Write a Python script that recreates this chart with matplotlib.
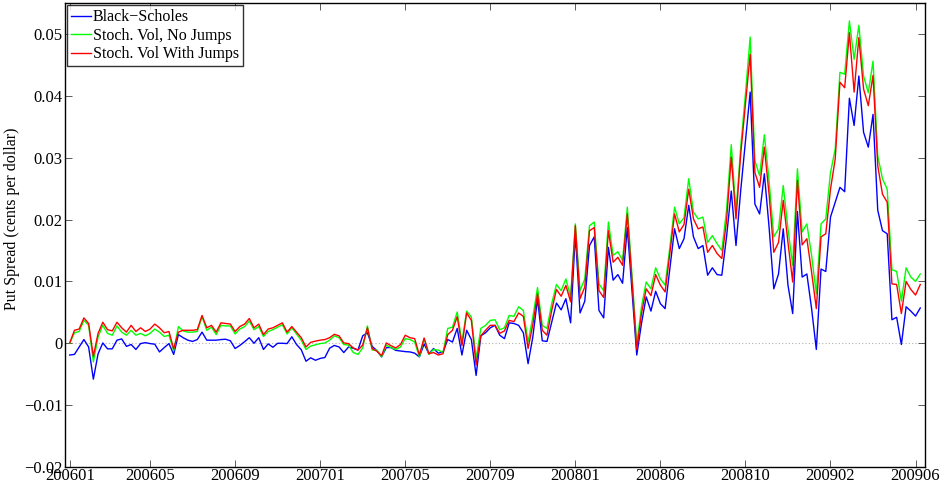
import matplotlib
matplotlib.use("Agg")
import matplotlib.pyplot as plt
import numpy as np

plt.rcParams['font.family'] = 'serif'
plt.rcParams['font.serif'] = ['Liberation Serif', 'DejaVu Serif']
plt.rcParams['mathtext.fontset'] = 'stix'

series_names = ["Black\u2212Scholes", "Stoch. Vol, No Jumps", "Stoch. Vol With Jumps"]
series_colors = ["#0000ff", "#00ff00", "#ff0000"]

tick_labels = ["200601", "200605", "200609", "200701", "200705", "200709",
               "200801", "200806", "200810", "200902", "200906"]
tick_index = [1, 18, 36, 54, 72, 90, 108, 126, 144, 162, 180]

black_scholes = [
    -0.0019, -0.0018, -0.0006, 0.0006, -0.0006, -0.0058, -0.0017, 0.00005, -0.0009, -0.0009,
    0.0005, 0.0007, -0.0005, -0.0002, -0.0010, -0.00005, 0.0001, -0.00005, -0.00015, -0.0014,
    -0.0007, -0.00005, -0.0018, 0.0014, 0.0009, 0.0005, 0.0003, 0.0006, 0.0018, 0.0005,
    0.0005, 0.0005, 0.0006, 0.00065, 0.0004, -0.00085, -0.00035, 0.00025, 0.0009, 0.0,
    0.0009, -0.0010, -0.0001, -0.00065, 0.0, 0.0, -0.00005, 0.00105, -0.0002, -0.00105,
    -0.0029, -0.00235, -0.00275, -0.00245, -0.0023, -0.0008, -0.00035, -0.0006, -0.0015, -0.0006,
    -0.0008, -0.0011, 0.0012, 0.0017, -0.0005, -0.0012, -0.0022, -0.0007, -0.0007, -0.00115,
    -0.00125, -0.00135, -0.0014, -0.0016, -0.0022, -0.0001, -0.0017, -0.00085, -0.0016, -0.0014,
    0.0006, 0.0002, 0.0024, -0.0019, 0.0021, 0.0006, -0.0052, 0.0012, 0.0017, 0.0025,
    0.0029, 0.0013, 0.00075, 0.0033, 0.0032, 0.0029, 0.0017, -0.0033, 0.0010, 0.0072,
    0.0004, 0.0003, 0.0034, 0.0065, 0.0054, 0.0072, 0.0033, 0.0177, 0.0049, 0.0068,
    0.0158, 0.0172, 0.0053, 0.0041, 0.0155, 0.0102, 0.0111, 0.0097, 0.0187, 0.0085,
    -0.0019, 0.0032, 0.0075, 0.0052, 0.0084, 0.0064, 0.0056, 0.0120, 0.0185, 0.0153,
    0.0169, 0.0223, 0.0172, 0.0153, 0.0158, 0.0110, 0.0122, 0.0111, 0.0110, 0.0172,
    0.0246, 0.0158, 0.0247, 0.0327, 0.0406, 0.0225, 0.0209, 0.0274, 0.0188, 0.0088,
    0.0112, 0.0185, 0.0094, 0.0048, 0.0213, 0.0107, 0.0112, 0.0056, -0.0010, 0.0120,
    0.0116, 0.0204, 0.0228, 0.0252, 0.0245, 0.0396, 0.0352, 0.0432, 0.0341, 0.0317,
    0.0370, 0.0215, 0.0182, 0.0177, 0.0038, 0.0042, -0.0002, 0.0059, 0.0052, 0.0044,
    0.0057,
]

stoch_vol_no_jumps = [
    0.0000, 0.0017, 0.0019, 0.0037, 0.0029, -0.0030, 0.0010, 0.0029, 0.0016, 0.0013,
    0.0028, 0.0018, 0.0013, 0.0021, 0.0013, 0.0016, 0.0012, 0.0016, 0.0023, 0.0018,
    0.0011, 0.0013, -0.0012, 0.0027, 0.0020, 0.0018, 0.0018, 0.0019, 0.0043, 0.0021,
    0.0026, 0.0014, 0.0029, 0.0028, 0.0028, 0.0015, 0.0023, 0.0027, 0.0036, 0.0022,
    0.0027, 0.0011, 0.0019, 0.0022, 0.0026, 0.0030, 0.0015, 0.0025, 0.0015, 0.0005,
    -0.0010, -0.00045, -0.00025, -0.00005, 0.00005, 0.0005, 0.0012, 0.0009, -0.0002, -0.0003,
    -0.0015, -0.0018, -0.00075, 0.0028, -0.0011, -0.0011, -0.0022, -0.0003, -0.0007, -0.0010,
    -0.0006, 0.00075, 0.0006, 0.0002, -0.0022, 0.00075, -0.0018, -0.0010, -0.0011, -0.0015,
    0.0024, 0.0026, 0.00505, 0.0002, 0.0052, 0.00425, -0.0025, 0.0024, 0.0029, 0.0037,
    0.0038, 0.0022, 0.0025, 0.0045, 0.00435, 0.0059, 0.0053, 0.0002, 0.0042, 0.0090,
    0.0029, 0.0024, 0.0064, 0.0095, 0.0085, 0.0104, 0.0075, 0.0193, 0.0085, 0.0104,
    0.0190, 0.0196, 0.0096, 0.0085, 0.0196, 0.0142, 0.0148, 0.0134, 0.0220, 0.0109,
    -0.0002, 0.0059, 0.0099, 0.0088, 0.0122, 0.0104, 0.0094, 0.0155, 0.0220, 0.0193,
    0.0203, 0.0266, 0.0212, 0.0201, 0.0204, 0.0163, 0.0174, 0.0161, 0.0150, 0.0215,
    0.0321, 0.0212, 0.0317, 0.0403, 0.0495, 0.0295, 0.0271, 0.0337, 0.0263, 0.0172,
    0.0185, 0.0255, 0.0185, 0.0126, 0.0282, 0.0180, 0.0193, 0.0142, 0.0080, 0.0193,
    0.0201, 0.0276, 0.0314, 0.0438, 0.0435, 0.0521, 0.0459, 0.0514, 0.0432, 0.0405,
    0.0456, 0.0303, 0.0266, 0.0249, 0.0119, 0.0116, 0.0068, 0.0122, 0.0107, 0.0100,
    0.0112,
]

stoch_vol_with_jumps = [
    0.00005, 0.0021, 0.0023, 0.0041, 0.0032, -0.0021, 0.0016, 0.0034, 0.0022, 0.0020,
    0.0034, 0.0025, 0.0018, 0.0029, 0.0019, 0.0025, 0.0019, 0.0023, 0.0031, 0.0025,
    0.0017, 0.0019, -0.0009, 0.0018, 0.0021, 0.0021, 0.0021, 0.0022, 0.0045, 0.0025,
    0.0029, 0.0018, 0.0033, 0.0032, 0.0031, 0.0019, 0.0027, 0.0031, 0.0040, 0.0025,
    0.0031, 0.0014, 0.0023, 0.0025, 0.0029, 0.0033, 0.0018, 0.0027, 0.0018, 0.0009,
    -0.0006, 0.00015, 0.00035, 0.0005, 0.0006, 0.0009, 0.00145, 0.0012, 0.00005, -0.00005,
    -0.00075, -0.0011, -0.0003, 0.0025, -0.00085, -0.0013, -0.0020, 0.00005, -0.0004, -0.00075,
    -0.0002, 0.0013, 0.0009, 0.00075, -0.0019, 0.00085, -0.0017, -0.0015, -0.0019, -0.0017,
    0.0014, 0.0021, 0.0043, -0.0004, 0.0049, 0.0037, -0.0035, 0.0012, 0.0021, 0.0029,
    0.0029, 0.0016, 0.0020, 0.0037, 0.0035, 0.0049, 0.00435, -0.00085, 0.0030, 0.0080,
    0.0021, 0.0013, 0.0053, 0.0087, 0.0076, 0.00935, 0.0067, 0.0190, 0.0072, 0.0091,
    0.0182, 0.0187, 0.0085, 0.0074, 0.0182, 0.0131, 0.0139, 0.0126, 0.0209, 0.0100,
    -0.0010, 0.0048, 0.0088, 0.0077, 0.0111, 0.0094, 0.0083, 0.0145, 0.0209, 0.0180,
    0.0192, 0.0249, 0.0201, 0.0185, 0.0188, 0.0147, 0.0158, 0.0145, 0.0137, 0.0198,
    0.0301, 0.0201, 0.0306, 0.0387, 0.0467, 0.0276, 0.0252, 0.0317, 0.0241, 0.0147,
    0.0163, 0.0231, 0.0163, 0.0099, 0.0263, 0.0159, 0.0169, 0.0115, 0.0056, 0.0172,
    0.0177, 0.0249, 0.0298, 0.0422, 0.0413, 0.0502, 0.0406, 0.0494, 0.0411, 0.0384,
    0.0433, 0.0287, 0.0241, 0.0228, 0.0096, 0.0095, 0.0048, 0.0100, 0.0087, 0.0078,
    0.0095,
]

fig = plt.figure(figsize=(9.42, 4.86), dpi=100)
ax = fig.add_axes([65 / 942, 1 - 467 / 486, 860 / 942, 464 / 486])

x = np.arange(1, len(black_scholes) + 1)
ax.axhline(0, color="#b0b0b0", lw=0.8, ls=(0, (1, 2)), zorder=1)
for vals, name, col in zip([black_scholes, stoch_vol_no_jumps, stoch_vol_with_jumps],
                           series_names, series_colors):
    ax.plot(x, vals, color=col, lw=1.0, label=name, zorder=2)

ax.set_xlim(0, 182)
ax.set_ylim(-0.02, 0.055)
ax.set_xticks(tick_index)
ax.set_xticklabels(tick_labels)
yt = [-0.02, -0.01, 0, 0.01, 0.02, 0.03, 0.04, 0.05]
ax.set_yticks(yt)
ax.set_yticklabels([("\u2212%.2f" % -v) if v < 0 else ("0" if v == 0 else "%.2f" % v) for v in yt])
ax.tick_params(direction="in", length=5, width=0.6, top=True, right=True,
               labelsize=12, pad=2, color="#404040")
ax.tick_params(axis="x", pad=1)
for s in ax.spines.values():
    s.set_linewidth(1.0)
    s.set_color("black")
ax.set_ylabel("Put Spread (cents per dollar)", fontsize=11.5)
ax.yaxis.set_label_coords(-0.052, 0.535)

leg = ax.legend(loc="upper left", fontsize=11.5, frameon=True, fancybox=False,
                edgecolor="black", handlelength=1.2, handletextpad=0.15,
                borderpad=0.25, labelspacing=0.15, borderaxespad=0.15)
leg.get_frame().set_linewidth(1.0)

fig.savefig("out.png", dpi=100)
